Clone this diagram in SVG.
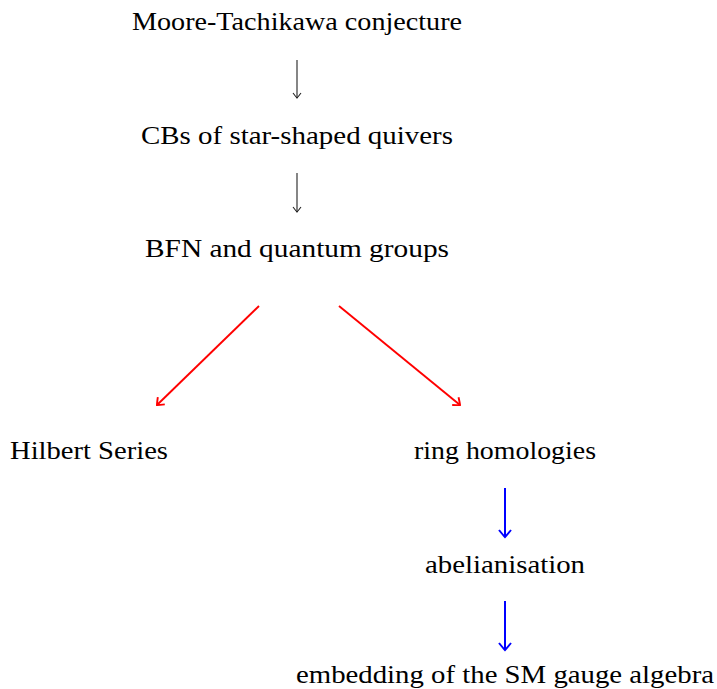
<svg xmlns="http://www.w3.org/2000/svg" width="717" height="689" viewBox="0 0 717 689">
<style>
text{font-family:"Liberation Serif","DejaVu Serif",serif;font-size:25px;fill:#000;text-anchor:middle}
.k{stroke:#222;stroke-width:1.1;fill:none}
.r{stroke:#ff0000;stroke-width:1.9;fill:none}
.b{stroke:#0000ff;stroke-width:2;fill:none}
</style>
<defs>
<marker id="hk" viewBox="-6 -5 8 10" markerWidth="8" markerHeight="10" refX="0" refY="0" orient="auto" markerUnits="userSpaceOnUse"><path d="M-5,-4 Q-1,-1 0,0 Q-1,1 -5,4" stroke="#222" stroke-width="1.1" fill="none"/></marker>
<marker id="hr" viewBox="-8 -6 10 12" markerWidth="10" markerHeight="12" refX="0" refY="0" orient="auto" markerUnits="userSpaceOnUse"><path d="M-6,-5 Q-1.5,-1.5 0,0 Q-1.5,1.5 -6,5" stroke="#ff0000" stroke-width="1.9" fill="none"/></marker>
<marker id="hb" viewBox="-9 -7 11 14" markerWidth="11" markerHeight="14" refX="0" refY="0" orient="auto" markerUnits="userSpaceOnUse"><path d="M-7,-6 Q-2,-2 0,0 Q-2,2 -7,6" stroke="#0000ff" stroke-width="2" fill="none"/></marker>
</defs>
<g id="connectors">
<line class="k" x1="297" y1="60" x2="297" y2="98" marker-end="url(#hk)"/>
<line class="k" x1="297" y1="173" x2="297" y2="212" marker-end="url(#hk)"/>
<line class="r" x1="259" y1="306" x2="157" y2="405" marker-end="url(#hr)"/>
<line class="r" x1="339" y1="306" x2="460" y2="405" marker-end="url(#hr)"/>
<line class="b" x1="505" y1="488" x2="505" y2="537" marker-end="url(#hb)"/>
<line class="b" x1="505" y1="601" x2="505" y2="650" marker-end="url(#hb)"/>
</g>
<g id="n1"><text x="297" y="30" textLength="330" lengthAdjust="spacingAndGlyphs">Moore-Tachikawa conjecture</text></g>
<g id="n2"><text x="297" y="144" textLength="312" lengthAdjust="spacingAndGlyphs">CBs of star-shaped quivers</text></g>
<g id="n3"><text x="297" y="257" textLength="304" lengthAdjust="spacingAndGlyphs">BFN and quantum groups</text></g>
<g id="n4"><text x="89" y="459" textLength="158" lengthAdjust="spacingAndGlyphs">Hilbert Series</text></g>
<g id="n5"><text x="505" y="459" textLength="182" lengthAdjust="spacingAndGlyphs">ring homologies</text></g>
<g id="n6"><text x="505" y="573" textLength="160" lengthAdjust="spacingAndGlyphs">abelianisation</text></g>
<g id="n7"><text x="505" y="683" textLength="418" lengthAdjust="spacingAndGlyphs">embedding of the SM gauge algebra</text></g>
</svg>
